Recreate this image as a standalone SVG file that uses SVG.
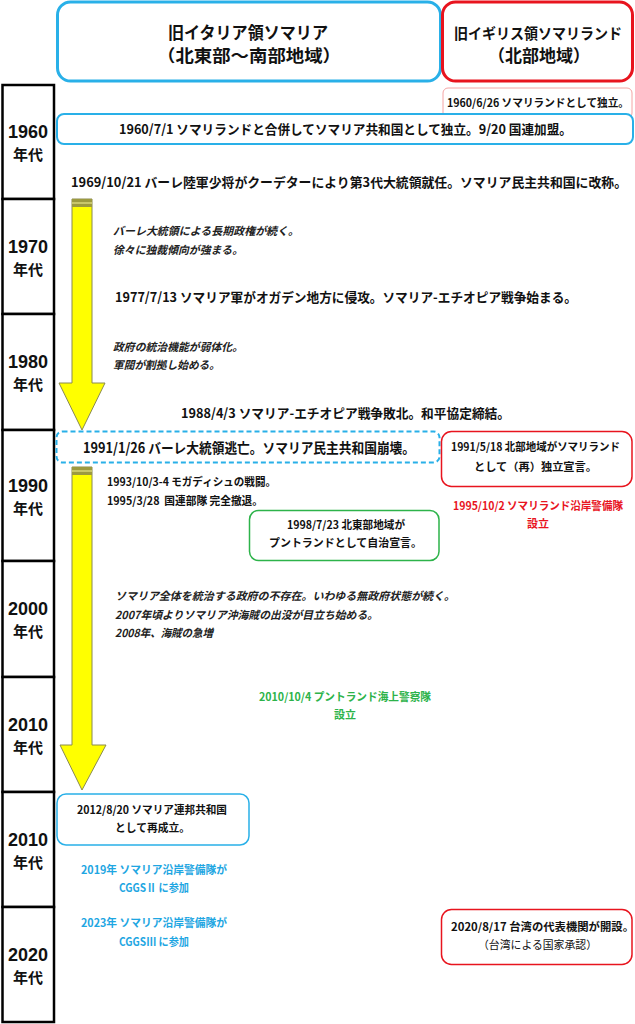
<svg xmlns="http://www.w3.org/2000/svg" width="635" height="1024" viewBox="0 0 635 1024">
<style>
text{font-family:"Noto Sans CJK JP","Noto Sans CJK SC",sans-serif;fill:#111;}
.b{font-weight:bold;}
.dec{font-weight:bold;text-anchor:middle;}
.d1{font-size:18px;font-family:"Liberation Sans",Arial,sans-serif;}
.d2{font-size:15px;}
.m13{font-size:13px;font-weight:bold;}
.m11{font-size:11px;font-weight:bold;}
.it{font-size:11px;font-style:italic;font-weight:bold;fill:#222;}
.mid{text-anchor:middle;}
.decbox{fill:#fff;stroke:#000;stroke-width:2.5;}
.blue{fill:#fff;stroke:#29b0e8;}
.red{fill:#fff;stroke:#e8141e;}
.green{fill:#fff;stroke:#2db34a;stroke-width:1.5;}
.arrow{fill:#ffff00;stroke:#8a8a50;stroke-width:1;}
.band{fill:#9c9a40;}
.rt{fill:#e8141e;}
.gt{fill:#2db34a;}
.bt{fill:#1ea6e2;}
</style>
<rect width="635" height="1024" fill="#fff"/>

<g id="header-italy">
<rect class="blue" x="57.5" y="2" width="383" height="79" rx="13" stroke-width="3"/>
<text class="b mid" x="248" y="39" font-size="17" textLength="160" lengthAdjust="spacingAndGlyphs">旧イタリア領ソマリア</text>
<text class="b mid" x="249" y="62" font-size="17" textLength="184" lengthAdjust="spacingAndGlyphs">（北東部～南部地域）</text>
</g>
<g id="header-britain">
<rect class="red" x="442.5" y="2" width="190" height="79" rx="13" stroke-width="3"/>
<text class="b mid" x="538" y="39" font-size="15" textLength="168" lengthAdjust="spacingAndGlyphs">旧イギリス領ソマリランド</text>
<text class="b mid" x="539" y="62" font-size="17">（北部地域）</text>
</g>

<g id="decades">
<g id="d1960"><rect class="decbox" x="2.5" y="85" width="51.5" height="114"/><text class="dec d1" x="28" y="138">1960</text><text class="dec d2" x="28" y="160">年代</text></g>
<g id="d1970"><rect class="decbox" x="2.5" y="199" width="51.5" height="115"/><text class="dec d1" x="28" y="252.5">1970</text><text class="dec d2" x="28" y="274.5">年代</text></g>
<g id="d1980"><rect class="decbox" x="2.5" y="314" width="51.5" height="116"/><text class="dec d1" x="28" y="368">1980</text><text class="dec d2" x="28" y="390">年代</text></g>
<g id="d1990"><rect class="decbox" x="2.5" y="430" width="51.5" height="131"/><text class="dec d1" x="28" y="491.5">1990</text><text class="dec d2" x="28" y="513.5">年代</text></g>
<g id="d2000"><rect class="decbox" x="2.5" y="561" width="51.5" height="116"/><text class="dec d1" x="28" y="615">2000</text><text class="dec d2" x="28" y="637">年代</text></g>
<g id="d2010a"><rect class="decbox" x="2.5" y="677" width="51.5" height="115"/><text class="dec d1" x="28" y="730.5">2010</text><text class="dec d2" x="28" y="752.5">年代</text></g>
<g id="d2010b"><rect class="decbox" x="2.5" y="792" width="51.5" height="115"/><text class="dec d1" x="28" y="845.5">2010</text><text class="dec d2" x="28" y="867.5">年代</text></g>
<g id="d2020"><rect class="decbox" x="2.5" y="907" width="51.5" height="115"/><text class="dec d1" x="28" y="960.5">2020</text><text class="dec d2" x="28" y="982.5">年代</text></g>
</g>

<g id="connectors">
<polygon class="arrow" points="72,199 92,199 92,383 105,383 82,430 59,383 72,383"/>
<rect class="band" x="72" y="199" width="20" height="8"/>
<rect x="72" y="202" width="20" height="2" fill="#c8c66a"/>
<polygon class="arrow" points="72,467 92,467 92,745 106,745 82,790 60,745 72,745"/>
<rect class="band" x="72" y="467" width="20" height="8"/>
<rect x="72" y="470" width="20" height="2" fill="#c8c66a"/>
</g>

<g id="n1960-somaliland">
<rect x="443" y="88" width="189" height="30" rx="5" fill="#fff" stroke="#f4a4a4" stroke-width="1"/>
<text class="m11" x="447" y="107" textLength="182" lengthAdjust="spacingAndGlyphs">1960/6/26 ソマリランドとして独立。</text>
</g>
<g id="n1960-merge">
<rect class="blue" x="57" y="114" width="576" height="30" rx="7" stroke-width="2"/>
<text class="m13" x="119" y="134" textLength="453" lengthAdjust="spacingAndGlyphs">1960/7/1 ソマリランドと合併してソマリア共和国として独立。9/20 国連加盟。</text>
</g>
<g id="n1969">
<text class="m13" x="71" y="187" textLength="556" lengthAdjust="spacingAndGlyphs">1969/10/21 バーレ陸軍少将がクーデターにより第3代大統領就任。ソマリア民主共和国に改称。</text>
</g>
<g id="n1970s">
<text class="it" x="113" y="235" textLength="186" lengthAdjust="spacingAndGlyphs">バーレ大統領による長期政権が続く。</text>
<text class="it" x="113" y="254" textLength="130" lengthAdjust="spacingAndGlyphs">徐々に独裁傾向が強まる。</text>
</g>
<g id="n1977">
<text class="m13" x="115" y="302" textLength="462" lengthAdjust="spacingAndGlyphs">1977/7/13 ソマリア軍がオガデン地方に侵攻。ソマリア-エチオピア戦争始まる。</text>
</g>
<g id="n1980s">
<text class="it" x="113" y="351" textLength="130" lengthAdjust="spacingAndGlyphs">政府の統治機能が弱体化。</text>
<text class="it" x="113" y="369" textLength="107" lengthAdjust="spacingAndGlyphs">軍閥が割拠し始める。</text>
</g>
<g id="n1988">
<text class="m13" x="181" y="418" textLength="329" lengthAdjust="spacingAndGlyphs">1988/4/3 ソマリア-エチオピア戦争敗北。和平協定締結。</text>
</g>
<g id="n1991-collapse">
<rect x="56.5" y="431.5" width="383" height="31" rx="6" fill="#fff" stroke="#29b0e8" stroke-width="2" stroke-dasharray="5,3"/>
<text class="b" font-size="14" x="83" y="453" textLength="332" lengthAdjust="spacingAndGlyphs">1991/1/26 バーレ大統領逃亡。ソマリア民主共和国崩壊。</text>
</g>
<g id="n1991-somaliland">
<rect class="red" x="441.5" y="431.5" width="190.5" height="55" rx="10" stroke-width="1.5"/>
<text class="m11" x="451" y="451" textLength="169" lengthAdjust="spacingAndGlyphs">1991/5/18 北部地域がソマリランド</text>
<text class="m11" x="474" y="471" textLength="123" lengthAdjust="spacingAndGlyphs">として（再）独立宣言。</text>
</g>
<g id="n1993">
<text class="m11" x="107" y="486" textLength="169" lengthAdjust="spacingAndGlyphs">1993/10/3-4 モガディシュの戦闘。</text>
<text class="m11" x="107" y="505" textLength="156" lengthAdjust="spacingAndGlyphs">1995/3/28&#160; 国連部隊 完全撤退。</text>
</g>
<g id="n1995-coastguard">
<text class="m11 rt" x="453" y="510" textLength="170" lengthAdjust="spacingAndGlyphs">1995/10/2 ソマリランド沿岸警備隊</text>
<text class="m11 rt mid" x="538" y="528">設立</text>
</g>
<g id="n1998-puntland">
<rect class="green" x="249.5" y="510.5" width="189.5" height="50" rx="9"/>
<text class="m11" x="287" y="529" textLength="118" lengthAdjust="spacingAndGlyphs">1998/7/23 北東部地域が</text>
<text class="m11" x="269" y="547" textLength="153" lengthAdjust="spacingAndGlyphs">プントランドとして自治宣言。</text>
</g>
<g id="n2000s">
<text class="it" x="115" y="600" textLength="340" lengthAdjust="spacingAndGlyphs">ソマリア全体を統治する政府の不存在。いわゆる無政府状態が続く。</text>
<text class="it" x="115" y="619" textLength="263" lengthAdjust="spacingAndGlyphs">2007年頃よりソマリア沖海賊の出没が目立ち始める。</text>
<text class="it" x="115" y="637" textLength="98" lengthAdjust="spacingAndGlyphs">2008年、海賊の急増</text>
</g>
<g id="n2010-puntland-police">
<text class="m11 gt" x="259" y="701" textLength="172" lengthAdjust="spacingAndGlyphs">2010/10/4 プントランド海上警察隊</text>
<text class="m11 gt mid" x="345" y="719">設立</text>
</g>
<g id="n2012-federal">
<rect class="blue" x="57" y="794" width="192" height="51" rx="9" stroke-width="1.5"/>
<text class="m11" x="77" y="814" textLength="150" lengthAdjust="spacingAndGlyphs">2012/8/20 ソマリア連邦共和国</text>
<text class="m11" x="115" y="832" textLength="75" lengthAdjust="spacingAndGlyphs">として再成立。</text>
</g>
<g id="n2019-cggs">
<text class="m11 bt" x="81" y="874" textLength="146" lengthAdjust="spacingAndGlyphs">2019年 ソマリア沿岸警備隊が</text>
<text class="m11 bt" x="119" y="892" textLength="70" lengthAdjust="spacingAndGlyphs">CGGSⅡ に参加</text>
</g>
<g id="n2023-cggs">
<text class="m11 bt" x="81" y="927" textLength="146" lengthAdjust="spacingAndGlyphs">2023年 ソマリア沿岸警備隊が</text>
<text class="m11 bt" x="119" y="946" textLength="70" lengthAdjust="spacingAndGlyphs">CGGSⅢ に参加</text>
</g>
<g id="n2020-taiwan">
<rect class="red" x="441.5" y="909.5" width="190.5" height="55" rx="10" stroke-width="1.5"/>
<text class="m11" x="451" y="931" textLength="183" lengthAdjust="spacingAndGlyphs">2020/8/17 台湾の代表機関が開設。</text>
<text x="478" y="949" font-size="11" textLength="119" lengthAdjust="spacingAndGlyphs">（台湾による国家承認）</text>
</g>
</svg>
